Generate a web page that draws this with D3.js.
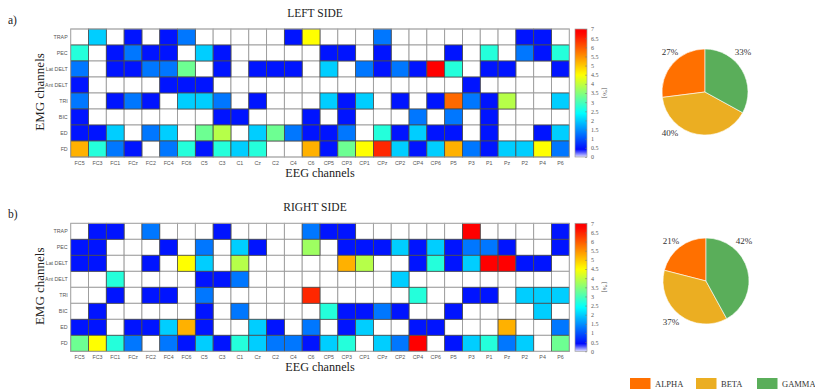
<!DOCTYPE html>
<html>
<head>
<meta charset="utf-8">
<script src="https://cdn.jsdelivr.net/npm/d3@7"></script>
<style>
  body { margin: 0; background: #fff; }
  svg { display: block; }
</style>
</head>
<body>
<svg id="chart" width="815" height="392"></svg>
<script>
// EEG electrodes (columns) and EMG muscles (rows)
const eegChannels = ["FC5","FC3","FC1","FCz","FC2","FC4","FC6",
                     "C5","C3","C1","Cz","C2","C4","C6",
                     "CP5","CP3","CP1","CPz","CP2","CP4","CP6",
                     "P5","P3","P1","Pz","P2","P4","P6"];
const emgChannels = ["TRAP","PEC","Lat DELT","Ant DELT","TRI","BIC","ED","FD"];

// Corticomuscular coupling [%] per EMG row; null = no significant coupling
const leftSide = [
  [null,2.0,null,0.5,null,0.5,1.3, null,null,null,null,null,0.5,4.5, null,null,null,1.3,null,null,null, null,null,null,null,0.5,0.5,null],
  [2.7,null,0.5,1.3,0.5,0.5,null, 2.0,0.5,null,null,null,null,null, 0.5,0.5,null,0.5,null,null,null, 0.5,null,2.7,null,1.3,0.5,2.7],
  [1.3,null,0.5,0.5,1.3,1.3,3.3, null,0.5,null,0.5,0.5,0.5,null, 2.0,null,1.3,0.5,1.3,0.5,6.9, 2.7,null,0.5,0.5,null,null,0.5],
  [0.5,null,null,null,null,0.5,0.5, 0.5,null,null,null,null,null,null, null,null,null,null,null,null,null, null,0.5,null,null,null,null,null],
  [1.3,null,0.5,1.3,0.5,null,2.0, 2.0,1.3,null,0.5,null,null,null, 2.0,0.5,2.0,null,0.5,null,0.5, 5.85,1.3,0.5,3.9,null,null,2.0],
  [0.5,null,null,null,null,null,null, null,0.5,0.5,null,null,null,0.5, null,0.5,null,null,null,1.3,null, 1.3,null,0.5,null,null,null,null],
  [0.5,0.5,2.0,null,1.3,2.0,null, 3.3,3.9,null,2.0,3.3,1.3,0.5, 0.5,1.3,null,2.7,0.5,2.0,0.5, 0.5,null,0.5,null,null,0.5,2.0],
  [5.2,2.7,1.3,0.5,null,1.3,2.7, 0.5,2.7,2.0,2.7,null,null,5.2, 0.5,3.3,4.5,6.45,2.0,0.5,2.0, 5.2,1.3,0.5,2.0,2.0,4.5,1.3]
];
const rightSide = [
  [null,0.5,0.5,null,1.3,null,null, null,0.5,null,null,null,null,1.3, 0.5,0.5,null,null,null,null,null, null,6.9,null,null,null,null,0.5],
  [0.5,0.5,null,null,null,0.5,null, 1.3,null,2.0,0.5,null,null,3.7, null,0.5,0.5,0.5,2.0,0.5,2.0, 0.5,1.3,1.3,0.5,null,null,0.5],
  [0.5,0.5,null,null,0.5,null,4.5, 2.0,null,3.9,null,null,null,null, null,5.2,3.9,null,null,0.5,2.7, 0.5,2.0,6.9,6.9,0.5,0.5,null],
  [null,null,2.7,null,null,null,null, 0.5,0.5,1.3,null,null,null,null, null,null,null,null,2.0,null,null, null,null,null,null,null,null,null],
  [null,null,0.5,null,0.5,0.5,null, 1.3,null,null,null,null,null,6.45, null,null,null,null,null,2.7,null, null,0.5,0.5,null,2.0,2.0,2.0],
  [null,0.5,null,null,null,null,null, 0.5,null,1.3,null,null,null,null, 2.7,0.5,0.5,1.3,0.5,null,null, 0.5,null,null,null,null,2.0,null],
  [0.5,0.5,null,0.5,0.5,2.0,5.2, 0.5,null,null,2.0,0.5,null,1.3, null,0.5,2.0,null,null,0.5,0.5, null,null,null,5.2,null,null,1.3],
  [3.3,4.5,2.7,1.3,null,1.3,0.5, 2.0,0.5,2.7,2.0,1.3,1.3,0.5, 2.0,2.7,null,2.0,1.3,6.9,null, 0.5,2.0,2.7,1.3,2.0,null,3.3]
];

// Colour bar ticks [%]
const colorTicks = [0,0.5,1,1.5,2,2.5,3,3.5,4,4.5,5,5.5,6,6.5,7];

// Frequency-band shares of significant couplings [%]
const bands = ["ALPHA","BETA","GAMMA"];
const leftShares = [27,40,33];
const rightShares = [21,37,42];
const bandColors = ["#ff7000","#ebae22","#5aae5a"];

const svg = d3.select("#chart");
const serif = "'Liberation Serif','Times New Roman',serif";
const sans = "'Liberation Sans',Arial,sans-serif";

// jet-like colour map, light at 0 and red at the top of the range
const color = d3.scaleLinear()
  .domain([0, 0.4, 2.4, 4.5, 6.8, 7])
  .range(["#e0e0ff","#0008ff","#00ffff","#ffff00","#ff0000","#ff0000"])
  .clamp(true);

const x = d3.scaleBand().domain(eegChannels).range([70.7, 569.3]);

// gradient for the colour bars
const defs = svg.append("defs");
const grad = defs.append("linearGradient").attr("id", "cbar")
  .attr("x1", 0).attr("y1", 1).attr("x2", 0).attr("y2", 0);
d3.range(0, 1.0001, 0.02).forEach(t => {
  grad.append("stop").attr("offset", t).attr("stop-color", color(t * 7));
});

function heatmap(panel) {
  const { top, data, title, letter } = panel;
  const y = d3.scaleBand().domain(emgChannels).range([top, top + 128]);
  const g = svg.append("g");

  const cells = [];
  data.forEach((row, i) => row.forEach((v, j) =>
    cells.push({ r: emgChannels[i], c: eegChannels[j], v })));

  // empty cells first, coloured ones on top so their outlines stay crisp
  g.selectAll("rect.empty").data(cells.filter(d => d.v === null)).join("rect")
    .attr("x", d => x(d.c)).attr("y", d => y(d.r))
    .attr("width", x.bandwidth()).attr("height", y.bandwidth())
    .attr("fill", "#fff").attr("stroke", "#9a9a9a").attr("stroke-width", 0.9);
  g.selectAll("rect.val").data(cells.filter(d => d.v !== null)).join("rect")
    .attr("x", d => x(d.c)).attr("y", d => y(d.r))
    .attr("width", x.bandwidth()).attr("height", y.bandwidth())
    .attr("fill", d => color(d.v)).attr("stroke", "#4a4a4a").attr("stroke-width", 0.8);

  g.append("rect")
    .attr("x", x.range()[0]).attr("y", top)
    .attr("width", x.range()[1] - x.range()[0]).attr("height", 128)
    .attr("fill", "none").attr("stroke", "#b0b0b0").attr("stroke-width", 0.8);

  // column labels
  const xa = g.append("g").attr("transform", `translate(0,${top + 128})`)
    .call(d3.axisBottom(x).tickSize(0).tickPadding(4));
  xa.select(".domain").remove();
  xa.selectAll("text").attr("font-family", sans).attr("font-size", 5.3).attr("fill", "#555");

  // row labels
  const ya = g.append("g").attr("transform", `translate(${x.range()[0]},0)`)
    .call(d3.axisLeft(y).tickSize(0).tickPadding(3));
  ya.select(".domain").remove();
  ya.selectAll("text").attr("font-family", sans).attr("font-size", 5.3).attr("fill", "#555");

  // colour bar
  const cb = d3.scaleLinear().domain([0, 7]).range([top + 128, top]);
  g.append("rect").attr("x", 575).attr("y", top).attr("width", 12).attr("height", 128)
    .attr("fill", "url(#cbar)").attr("stroke", "#a0a0a0").attr("stroke-width", 0.7);
  const ca = g.append("g").attr("transform", "translate(587,0)")
    .call(d3.axisRight(cb).tickValues(colorTicks).tickSize(-2).tickPadding(4)
      .tickFormat(d3.format("")));
  ca.select(".domain").remove();
  ca.selectAll("line").attr("stroke", "#777").attr("stroke-width", 0.5);
  ca.selectAll("text").attr("font-family", serif).attr("font-size", 6).attr("fill", "#555");
  g.append("text")
    .attr("transform", `translate(603,${top + 64}) rotate(90)`)
    .attr("text-anchor", "middle").attr("font-family", serif).attr("font-size", 7)
    .attr("fill", "#555").text("[%]");

  // titles
  g.append("text").attr("x", 315).attr("y", top - 12.5).attr("text-anchor", "middle")
    .attr("font-family", serif).attr("font-size", 11.5).attr("fill", "#222").text(title);
  g.append("text").attr("x", 8).attr("y", top - 5).attr("font-family", serif)
    .attr("font-size", 11.5).attr("fill", "#222").text(letter);
  g.append("text").attr("x", 320).attr("y", top + 148).attr("text-anchor", "middle")
    .attr("font-family", serif).attr("font-size", 12.2).attr("fill", "#222").text("EEG channels");
  g.append("text").attr("transform", `translate(44,${top + 63}) rotate(-90)`)
    .attr("text-anchor", "middle").attr("font-family", serif).attr("font-size", 13)
    .attr("fill", "#222").text("EMG channels");
}

heatmap({ top: 29, data: leftSide, title: "LEFT SIDE", letter: "a)" });
heatmap({ top: 223.3, data: rightSide, title: "RIGHT SIDE", letter: "b)" });

// band-share pies, first slice starting at 12 o'clock and running anticlockwise
function pie(cx, cy, shares) {
  const r = 43;
  const arcs = d3.pie().sort(null).startAngle(2 * Math.PI).endAngle(0)(shares);
  const g = svg.append("g").attr("transform", `translate(${cx},${cy})`);
  g.selectAll("path").data(arcs).join("path")
    .attr("d", d3.arc().innerRadius(0).outerRadius(r))
    .attr("fill", (d, i) => bandColors[i]).attr("stroke", "#fff").attr("stroke-width", 0.6);
  g.selectAll("text").data(arcs).join("text")
    .attr("x", d => {
      const m = (d.startAngle + d.endAngle) / 2;
      return Math.sin(m) < 0 ? -35 : 38;
    })
    .attr("y", d => {
      const m = (d.startAngle + d.endAngle) / 2;
      return (Math.cos(m) > 0 ? -40 : 41) + 3;
    })
    .attr("text-anchor", "middle").attr("font-family", serif).attr("font-size", 9)
    .attr("fill", "#333").text(d => d.data + "%");
}
pie(705, 92, leftShares);
pie(706, 281, rightShares);

// legend
const leg = svg.append("g");
const legX = [630, 696, 757];
bands.forEach((b, i) => {
  leg.append("rect").attr("x", legX[i]).attr("y", 378).attr("width", 20.5).attr("height", 11)
    .attr("fill", bandColors[i]);
  leg.append("text").attr("x", legX[i] + 25).attr("y", 387).attr("font-family", serif)
    .attr("font-size", 8.5).attr("fill", "#333").text(b);
});
</script>
</body>
</html>
